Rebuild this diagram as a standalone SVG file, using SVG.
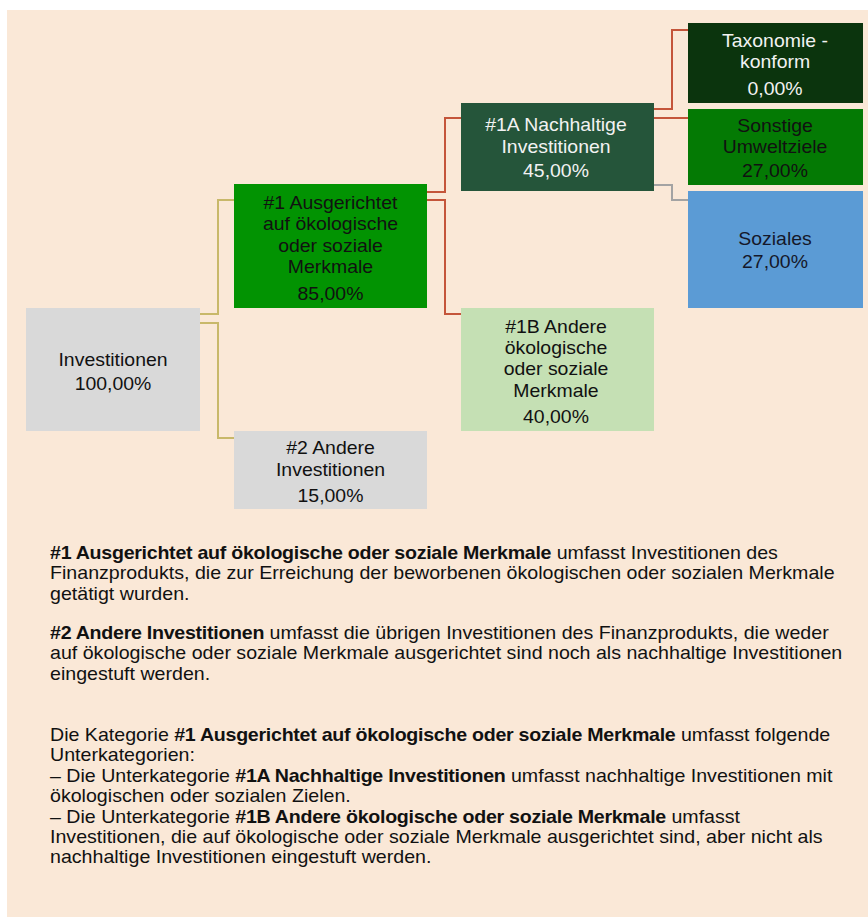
<svg xmlns="http://www.w3.org/2000/svg" width="868" height="917" viewBox="0 0 868 917">
<style>
.t{font-family:"Liberation Sans",Arial,sans-serif;font-size:18px;text-anchor:middle}
.dk{fill:#111}
.wh{fill:#f2f2f2}
.p{font-family:"Liberation Sans",Arial,sans-serif;font-size:18px;fill:#111}
.b{font-weight:bold;letter-spacing:-0.25px}
.c{fill:none;stroke-width:2}
.ol{stroke:#c8b86a}
.rd{stroke:#c4553a}
.gr{stroke:#a3a3a3}
</style>
<rect x="0" y="0" width="868" height="917" fill="#ffffff"/>
<rect x="7" y="10" width="861" height="907" fill="#fae8d7"/>
<g id="connectors">
<path class="c ol" d="M200,314 H218 V200 H234"/>
<path class="c ol" d="M200,323 H218 V438 H234"/>
<path class="c rd" d="M427,192 H445 V118 H461"/>
<path class="c rd" d="M427,200 H445 V314 H461"/>
<path class="c rd" d="M654,109 H672 V30 H688"/>
<path class="c rd" d="M654,118 H688"/>
<path class="c gr" d="M654,185 H672 V200 H688"/>
</g>
<g id="investitionen">
<rect x="26" y="308" width="174" height="123" fill="#d9d9d9"/>
<g transform="translate(113,0) scale(1.08,1)">
<text class="t dk" x="0" y="366">Investitionen</text>
<text class="t dk" x="0" y="390">100,00%</text>
</g>
</g>
<g id="n1">
<rect x="234" y="184" width="193" height="124" fill="#029302"/>
<g transform="translate(330.5,0) scale(1.08,1)">
<text class="t dk" x="0" y="209">#1 Ausgerichtet</text>
<text class="t dk" x="0" y="230">auf ökologische</text>
<text class="t dk" x="0" y="252">oder soziale</text>
<text class="t dk" x="0" y="273">Merkmale</text>
<text class="t dk" x="0" y="300">85,00%</text>
</g>
</g>
<g id="n2">
<rect x="234" y="431" width="193" height="78" fill="#d9d9d9"/>
<g transform="translate(330.5,0) scale(1.08,1)">
<text class="t dk" x="0" y="454">#2 Andere</text>
<text class="t dk" x="0" y="476">Investitionen</text>
<text class="t dk" x="0" y="502">15,00%</text>
</g>
</g>
<g id="n1a">
<rect x="461" y="103" width="193" height="88" fill="#25553a"/>
<g transform="translate(556,0) scale(1.08,1)">
<text class="t wh" x="0" y="131">#1A Nachhaltige</text>
<text class="t wh" x="0" y="153">Investitionen</text>
<text class="t wh" x="0" y="177">45,00%</text>
</g>
</g>
<g id="n1b">
<rect x="461" y="308" width="193" height="123" fill="#c5e0b4"/>
<g transform="translate(556,0) scale(1.08,1)">
<text class="t dk" x="0" y="333">#1B Andere</text>
<text class="t dk" x="0" y="354">ökologische</text>
<text class="t dk" x="0" y="375">oder soziale</text>
<text class="t dk" x="0" y="397"> Merkmale</text>
<text class="t dk" x="0" y="423">40,00%</text>
</g>
</g>
<g id="taxonomie">
<rect x="688" y="23" width="175" height="80" fill="#0b340d"/>
<g transform="translate(775,0) scale(1.08,1)">
<text class="t wh" x="0" y="47">Taxonomie -</text>
<text class="t wh" x="0" y="68">konform</text>
<text class="t wh" x="0" y="95">0,00%</text>
</g>
</g>
<g id="sonstige">
<rect x="688" y="109" width="175" height="76" fill="#047a04"/>
<g transform="translate(775,0) scale(1.08,1)">
<text class="t dk" x="0" y="132">Sonstige</text>
<text class="t dk" x="0" y="153">Umweltziele</text>
<text class="t dk" x="0" y="177">27,00%</text>
</g>
</g>
<g id="soziales">
<rect x="688" y="191" width="175" height="117" fill="#5b9bd5"/>
<g transform="translate(775,0) scale(1.08,1)">
<text class="t" fill="#15182a" x="0" y="245">Soziales</text>
<text class="t" fill="#15182a" x="0" y="268">27,00%</text>
</g>
</g>
<g id="notes" transform="translate(50,0) scale(1.09,1)">
<text class="p" x="0" y="559"><tspan class="b">#1 Ausgerichtet auf ökologische oder soziale Merkmale</tspan> umfasst Investitionen des</text>
<text class="p" x="0" y="579">Finanzprodukts, die zur Erreichung der beworbenen ökologischen oder sozialen Merkmale</text>
<text class="p" x="0" y="600">getätigt wurden.</text>
<text class="p" x="0" y="639"><tspan class="b">#2 Andere Investitionen</tspan> umfasst die übrigen Investitionen des Finanzprodukts, die weder</text>
<text class="p" x="0" y="659">auf ökologische oder soziale Merkmale ausgerichtet sind noch als nachhaltige Investitionen</text>
<text class="p" x="0" y="680">eingestuft werden.</text>
<text class="p" x="0" y="741">Die Kategorie <tspan class="b">#1 Ausgerichtet auf ökologische oder soziale Merkmale</tspan> umfasst folgende</text>
<text class="p" x="0" y="761">Unterkategorien:</text>
<text class="p" x="0" y="782">– Die Unterkategorie <tspan class="b">#1A Nachhaltige Investitionen</tspan> umfasst nachhaltige Investitionen mit</text>
<text class="p" x="0" y="802">ökologischen oder sozialen Zielen.</text>
<text class="p" x="0" y="823">– Die Unterkategorie <tspan class="b">#1B Andere ökologische oder soziale Merkmale</tspan> umfasst</text>
<text class="p" x="0" y="843">Investitionen, die auf ökologische oder soziale Merkmale ausgerichtet sind, aber nicht als</text>
<text class="p" x="0" y="863">nachhaltige Investitionen eingestuft werden.</text>
</g>
</svg>
